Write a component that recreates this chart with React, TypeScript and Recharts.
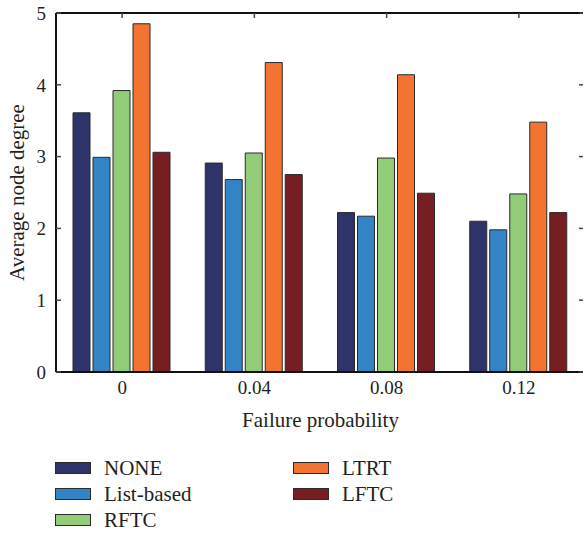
import { BarChart, Bar, Line, XAxis, YAxis } from 'recharts'

const categories = ['0', '0.04', '0.08', '0.12']
const noneValues = [3.61, 2.91, 2.22, 2.1]
const listBasedValues = [2.99, 2.68, 2.17, 1.98]
const rftcValues = [3.92, 3.05, 2.98, 2.48]
const ltrtValues = [4.85, 4.31, 4.14, 3.48]
const lftcValues = [3.06, 2.75, 2.49, 2.22]
const yTicks = [0, 1, 2, 3, 4, 5]

const series = [
  { key: 'NONE', values: noneValues, color: '#2e3369' },
  { key: 'List-based', values: listBasedValues, color: '#3483c5' },
  { key: 'RFTC', values: rftcValues, color: '#93cc78' },
  { key: 'LTRT', values: ltrtValues, color: '#f37330' },
  { key: 'LFTC', values: lftcValues, color: '#761e22' },
]

const data = categories.map((c, i) => {
  const row: Record<string, string | number> = { name: c }
  series.forEach(s => {
    row[s.key] = s.values[i]
  })
  return row
})

const FONT = '"Liberation Serif", "Times New Roman", serif'
const TEXT = '#231f20'
const TICK_MARGIN = 10

// legend: first column holds three series, second column two
const legendColumns = [series.slice(0, 3), series.slice(3)]

// y tick label plus a short tick line pointing into the plot
function LeftTick(props: any) {
  const { x, y, payload } = props
  const axisX = x + TICK_MARGIN
  return (
    <g>
      <line x1={axisX} x2={axisX + 5} y1={y} y2={y} stroke="#444" strokeWidth={1.5} />
      <text x={x} y={y} dy="0.36em" textAnchor="end" fontSize={19} fill={TEXT} fontFamily={FONT}>
        {payload.value}
      </text>
    </g>
  )
}

const noLabel = () => <g />

export default function App() {
  return (
    <div
      style={{
        position: 'absolute',
        left: 0,
        top: 0,
        width: 583,
        height: 533,
        overflow: 'hidden',
        background: '#fff',
        fontFamily: FONT,
      }}
    >
      <BarChart
        width={590}
        height={440}
        data={data}
        margin={{ top: 13, right: 5, left: 0, bottom: 8 }}
        barCategoryGap={17}
        barGap={3}
      >
        <XAxis
          dataKey="name"
          height={60}
          axisLine={{ stroke: '#111', strokeWidth: 2 }}
          tickLine={false}
          tickSize={0}
          tickMargin={9}
          tick={{ fontSize: 19, fill: TEXT, fontFamily: FONT }}
          label={{
            value: 'Failure probability',
            position: 'insideBottom',
            offset: 5,
            fontSize: 21,
            fill: TEXT,
            fontFamily: FONT,
          }}
        />
        <XAxis
          xAxisId="top"
          dataKey="name"
          orientation="top"
          mirror
          height={1}
          tick={noLabel}
          tickSize={5}
          axisLine={{ stroke: '#111', strokeWidth: 2 }}
          tickLine={{ stroke: '#444', strokeWidth: 1.5 }}
        />
        <YAxis
          width={56}
          domain={[0, 5]}
          ticks={yTicks}
          axisLine={{ stroke: '#111', strokeWidth: 2 }}
          tickLine={false}
          tickSize={0}
          tickMargin={TICK_MARGIN}
          tick={LeftTick}
          label={({ viewBox }: any) => (
            <text
              x={17}
              y={viewBox.y + viewBox.height / 2}
              transform={`rotate(-90, 17, ${viewBox.y + viewBox.height / 2})`}
              textAnchor="middle"
              dominantBaseline="central"
              fontSize={21}
              fill={TEXT}
              fontFamily={FONT}
            >
              Average node degree
            </text>
          )}
        />
        <YAxis
          yAxisId="right"
          orientation="right"
          width={1}
          mirror
          domain={[0, 5]}
          ticks={yTicks}
          axisLine={{ stroke: '#111', strokeWidth: 2 }}
          tick={noLabel}
          tickSize={6}
          tickLine={{ stroke: '#444', strokeWidth: 1.5 }}
        />
        {series.map(s => (
          <Bar
            key={s.key}
            dataKey={s.key}
            fill={s.color}
            stroke="#2b2b2b"
            strokeWidth={1}
            isAnimationActive={false}
          />
        ))}
        {/* invisible helper so the top and right frame axes get their ticks */}
        <Line
          xAxisId="top"
          yAxisId="right"
          dataKey="NONE"
          stroke="none"
          dot={false}
          activeDot={false}
          legendType="none"
          isAnimationActive={false}
        />
      </BarChart>

      <div style={{ position: 'absolute', left: 55, top: 455, display: 'flex' }}>
        {legendColumns.map((col, ci) => (
          <div key={ci} style={{ width: 238 }}>
            {col.map(s => (
              <div
                key={s.key}
                style={{ display: 'flex', alignItems: 'center', height: 26, fontSize: 21, color: TEXT }}
              >
                <span
                  style={{
                    display: 'inline-block',
                    width: 34,
                    height: 10,
                    background: s.color,
                    border: '1px solid #2b2b2b',
                    marginRight: 13,
                  }}
                />
                <span>{s.key}</span>
              </div>
            ))}
          </div>
        ))}
      </div>
    </div>
  )
}
